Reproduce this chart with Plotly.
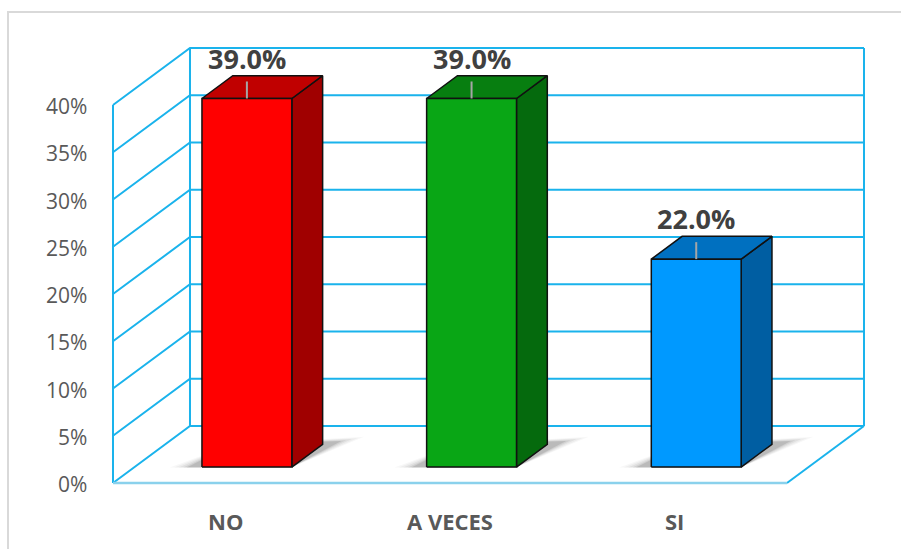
import plotly.graph_objects as go

# ---------------- data ----------------
categories = ["NO", "A VECES", "SI"]
values = [39.0, 39.0, 22.0]
y_ticks = [0, 5, 10, 15, 20, 25, 30, 35, 40]
y_tick_labels = [f"{t}%" for t in y_ticks]

front_colors = ["#FF0000", "#09A615", "#0099FF"]
top_colors = ["#C00000", "#077E10", "#0070C0"]
side_colors = ["#A00000", "#056A0D", "#005EA2"]

# ---------------- geometry (oblique 3D projection in data units) ----------------
DX = 0.3427      # depth offset in category units
DY = 6.03        # depth offset in percent units
HALF_W = 0.2     # half bar width (category units)
D0, D1 = 0.28, 0.68  # bar depth span (fraction of floor depth)
X_MIN, X_MAX = -0.5, len(categories) - 0.5
Y_MAX = max(y_ticks)

GRID = "#1AB3EC"
FLOOR_FRONT = "#8AD1EC"


def proj(x, y, d):
    return x + d * DX, y + d * DY


fig = go.Figure()


def line(xs, ys, color, width):
    fig.add_trace(go.Scatter(x=xs, y=ys, mode="lines", hoverinfo="skip",
                             line=dict(color=color, width=width), showlegend=False))


def poly(pts, fill, lcolor, lwidth, opacity=1.0):
    xs = [p[0] for p in pts] + [pts[0][0]]
    ys = [p[1] for p in pts] + [pts[0][1]]
    fig.add_trace(go.Scatter(x=xs, y=ys, mode="lines", fill="toself", fillcolor=fill,
                             line=dict(color=lcolor, width=lwidth), opacity=opacity,
                             hoverinfo="skip", showlegend=False))


# walls / gridlines
for t in y_ticks:
    bx, by = proj(X_MIN, t, 1)
    ex, ey = proj(X_MAX, t, 1)
    line([X_MIN, bx, ex], [t, by, ey], GRID, 2)
# verticals
line([X_MIN, X_MIN], [0, Y_MAX], GRID, 2)
bx0, by0 = proj(X_MIN, 0, 1)
bx1, by1 = proj(X_MIN, Y_MAX, 1)
line([bx0, bx1], [by0, by1], GRID, 2)
rx0, ry0 = proj(X_MAX, 0, 1)
rx1, ry1 = proj(X_MAX, Y_MAX, 1)
line([rx0, rx1], [ry0, ry1], GRID, 2)
# floor right diagonal and front edge
line([X_MAX, rx0], [0, ry0], GRID, 2)
line([X_MIN, X_MAX], [0, 0], FLOOR_FRONT, 2.5)

# soft shadows (layered for a blurred look)
for i, v in enumerate(values):
    for grow, op in [(0.09, 0.03), (0.07, 0.04), (0.05, 0.05), (0.03, 0.07), (0.015, 0.10)]:
        pts = [
            proj(i - HALF_W - 0.05 - grow, 0, D0 - 0.01),
            proj(i + HALF_W, 0, D0 - 0.01),
            proj(i + HALF_W + 0.05 + grow, 0, D1 + 0.04 + grow),
            proj(i - HALF_W, 0, D1),
        ]
        poly(pts, "rgba(0,0,0,1)", "rgba(0,0,0,0)", 0, opacity=op)

# bars
for i, v in enumerate(values):
    xl, xr = i - HALF_W, i + HALF_W
    poly([proj(xr, 0, D0), proj(xr, 0, D1), proj(xr, v, D1), proj(xr, v, D0)],
         side_colors[i], "#111111", 1.5)
    poly([proj(xl, v, D0), proj(xr, v, D0), proj(xr, v, D1), proj(xl, v, D1)],
         top_colors[i], "#111111", 1.5)
    poly([proj(xl, 0, D0), proj(xr, 0, D0), proj(xr, v, D0), proj(xl, v, D0)],
         front_colors[i], "#111111", 1.5)
    cx, cy = proj(i, v, D0)
    line([cx, cx], [cy, cy + 1.8], "#A6A6A6", 2)

annotations = []
for i, v in enumerate(values):
    cx, cy = proj(i, v, D0)
    annotations.append(dict(x=cx, y=cy + 4.25, xref="x", yref="y", text=f"{v:.1f}%",
                            showarrow=False, xanchor="center", yanchor="middle",
                            font=dict(family="Open Sans", size=27, color="#404040", weight="bold")))
for t, lab in zip(y_ticks, y_tick_labels):
    annotations.append(dict(x=X_MIN, y=t, xref="x", yref="y", text=lab, showarrow=False,
                            xanchor="right", yanchor="middle", xshift=-24, yshift=-1,
                            font=dict(family="Open Sans", size=21, color="#595959")))
for i, c in enumerate(categories):
    annotations.append(dict(x=i, y=0, xref="x", yref="y", text=c, showarrow=False,
                            xanchor="center", yanchor="middle", yshift=-38,
                            font=dict(family="Open Sans", size=22, color="#595959", weight="bold")))

# layout: plot area px x [100, 875], y [36, 492]
W, H = 901, 549
PL, PR, PT, PB = 100, 875, 36, 492
PX_PER_CAT = 224.67
PX_PER_PCT = 9.45
FRONT_LEFT_PX, ZERO_PX = 113, 483
x_lo = X_MIN - (FRONT_LEFT_PX - PL) / PX_PER_CAT
x_hi = X_MIN + (PR - FRONT_LEFT_PX) / PX_PER_CAT
y_lo = -(PB - ZERO_PX) / PX_PER_PCT
y_hi = (ZERO_PX - PT) / PX_PER_PCT

fig.update_layout(
    width=W, height=H,
    margin=dict(l=PL, r=W - PR, t=PT, b=H - PB, pad=0),
    paper_bgcolor="white", plot_bgcolor="white",
    xaxis=dict(range=[x_lo, x_hi], visible=False, fixedrange=True),
    yaxis=dict(range=[y_lo, y_hi], visible=False, fixedrange=True),
    annotations=annotations,
    shapes=[dict(type="rect", xref="paper", yref="paper",
                 x0=(8 - PL) / (PR - PL), x1=1.3,
                 y0=-0.5, y1=(PB - 12) / (PB - PT),
                 line=dict(color="#D9D9D9", width=2), fillcolor="rgba(0,0,0,0)", layer="below")],
    showlegend=False,
)

fig.write_html("out.html")
